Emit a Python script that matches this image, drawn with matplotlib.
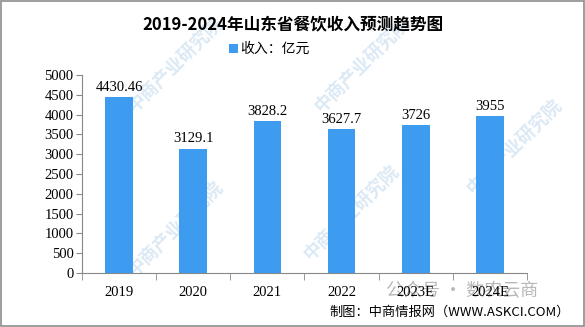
import matplotlib
matplotlib.use("Agg")
import matplotlib.pyplot as plt
from matplotlib.patches import Rectangle

years = ["2019", "2020", "2021", "2022", "2023E", "2024E"]
revenue = [4430.46, 3129.1, 3828.2, 3627.7, 3726, 3955]
value_labels = ["4430.46", "3129.1", "3828.2", "3627.7", "3726", "3955"]
yticks = [0, 500, 1000, 1500, 2000, 2500, 3000, 3500, 4000, 4500, 5000]

cjk = ["Noto Sans CJK SC", "DejaVu Sans"]
serif = ["Liberation Serif", "DejaVu Serif"]
bar_color = "#3d9cf0"

fig = plt.figure(figsize=(5.85, 3.27), dpi=100)
fig.patch.set_facecolor("white")

# outer frame
fig.add_artist(Rectangle((0.002, 0.003), 0.996, 0.994, transform=fig.transFigure,
                         fill=False, edgecolor="#8c8c8c", linewidth=1.2))

# faint background watermarks
for (x, y) in [(0.30, 0.80), (0.62, 0.80), (0.30, 0.30),
               (0.60, 0.35), (0.88, 0.55)]:
    fig.text(x, y, "中商产业研究院", family=cjk, fontsize=13, color="#dbe9f5",
             rotation=45, ha="center", va="center", zorder=-1, fontweight="bold")

ax = fig.add_axes([0.140, 0.165, 0.761, 0.606])
x = list(range(len(years)))
ax.bar(x, revenue, width=0.37, color=bar_color, zorder=3)
ax.set_xlim(-0.5, len(years) - 0.5)
ax.set_ylim(0, 5000)
ax.set_yticks(yticks)
ax.set_yticklabels([str(t) for t in yticks], family=serif, fontsize=10.5)
ax.set_xticks(x)
ax.set_xticklabels(years, family=serif, fontsize=10.5)
ax.tick_params(axis="x", length=0, pad=9)
ax.set_xticks([i - 0.5 for i in range(len(years) + 1)], minor=True)
ax.tick_params(axis="x", which="minor", length=5, color="#888888", direction="out")
ax.tick_params(axis="y", length=4, color="#888888", direction="out", pad=2)
for s in ["top", "right"]:
    ax.spines[s].set_visible(False)
for s in ["left", "bottom"]:
    ax.spines[s].set_color("#888888")
ax.patch.set_alpha(0)

for xi, v, lab in zip(x, revenue, value_labels):
    ax.text(xi, v + 90, lab, ha="center", va="bottom", family=serif, fontsize=10.5)

fig.text(0.5, 0.925, "2019-2024年山东省餐饮收入预测趋势图", ha="center", va="center",
         family=cjk, fontsize=12, fontweight="bold")
fig.add_artist(Rectangle((0.392, 0.838), 0.014, 0.027, transform=fig.transFigure,
                         facecolor=bar_color, edgecolor="none"))
fig.text(0.41, 0.851, "收入：亿元", ha="left", va="center", family=cjk, fontsize=10)

fig.text(0.79, 0.108, "公众号 · 数农云商", ha="center", va="center", family=cjk,
         fontsize=13, color="#b8b8b8", zorder=-1)
fig.text(0.975, 0.045, "制图：中商情报网（WWW.ASKCI.COM）", ha="right", va="center",
         family=cjk, fontsize=9.5)

fig.savefig("out.png", dpi=100, facecolor="white")
